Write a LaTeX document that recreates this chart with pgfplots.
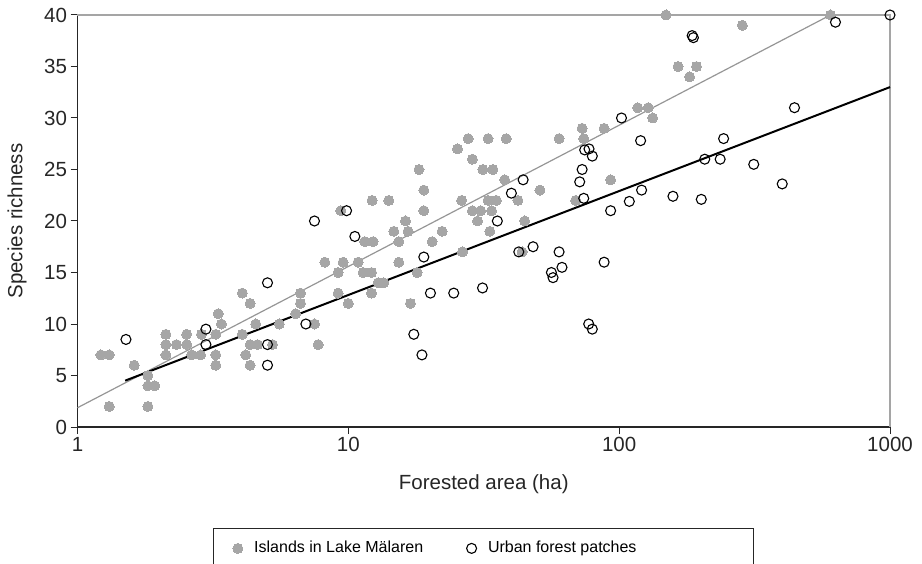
\documentclass[border=0pt]{standalone}
\usepackage{fontspec}
\setmainfont{Liberation Sans}
\usepackage{pgfplots}
\pgfplotsset{compat=1.18}

\definecolor{islandgray}{RGB}{166,166,166}
\definecolor{fitgray}{RGB}{150,150,150}
\definecolor{framegray}{RGB}{165,165,165}

\newcommand{\chartfont}{\fontsize{20.5bp}{24bp}\selectfont}
\newcommand{\keyfont}{\fontsize{16bp}{19bp}\selectfont}

\begin{document}
\begin{tikzpicture}
\begin{axis}[
  scale only axis,
  width=812.5bp, height=412bp,
  xmode=log, log basis x=10,
  xmin=1, xmax=1000, ymin=0, ymax=40,
  xtick={1,10,100,1000}, xticklabels={1,10,100,1000},
  xminorticks=false,
  ytick={0,5,...,40},
  axis x line*=bottom, axis y line*=left,
  axis line style={-, line width=1.2bp, black!85},
  tick align=outside, major tick length=7bp,
  tick style={line width=1bp, black!85},
  /pgf/number format/assume math mode=true,
  tick label style={font=\chartfont, text=black!85},
  xlabel={Forested area (ha)},
  ylabel={Species richness},
  every axis x label/.style={at={(axis description cs:0.5,-0.138)}, anchor=center,
    font=\chartfont, text=black!85},
  every axis y label/.style={at={(axis description cs:-0.0745,0.5)}, anchor=center,
    rotate=90, font=\chartfont, text=black!85},
  clip=false,
  legend columns=2,
  legend style={
    at={(axis description cs:0.1668,-0.2451)}, anchor=north west,
    draw=black!85, line width=0.8bp, font=\keyfont,
    inner xsep=8bp, inner ysep=12bp,
    nodes={inner sep=0bp, text height=12bp, text depth=4bp},
    /tikz/every even column/.append style={column sep=32bp},
  },
  legend image code/.code={\path (-16bp,0bp) (16bp,0bp); \draw[#1] plot coordinates {(0bp,0bp)};},
]
% grey frame on the top and right of the plot area
\draw[framegray, line width=1.2bp] (rel axis cs:0,1) -- (rel axis cs:1,1) -- (rel axis cs:1,0);

% islands in Lake Malaren
\addplot[only marks, mark=*, mark size=5bp, mark options={fill=islandgray, draw=islandgray, line width=0pt}]
coordinates {
(1.22,7) (1.31,7) (1.31,2) (1.62,6) (1.82,5) (1.82,4) (1.93,4) (1.82,2)
(2.12,9) (2.12,8) (2.12,7) (2.32,8) (2.53,9) (2.53,8) (2.64,7) (2.85,7)
(2.87,9) (3.24,9) (3.24,7) (3.24,6) (3.31,11) (3.40,10) (4.06,13) (4.34,12)
(4.06,9) (4.18,7) (4.34,6) (4.34,8) (4.62,8) (4.55,10) (5.25,8) (5.56,10)
(6.66,13) (6.66,12) (6.39,11) (7.50,10) (7.74,8) (8.19,16) (9.17,13) (9.17,15)
(9.57,16) (10.0,12) (10.87,16) (11.34,15) (12.18,15) (12.18,13) (11.5,18) (12.35,18)
(12.88,14) (13.52,14) (14.72,19) (15.36,18) (15.36,16) (16.26,20) (16.62,19) (16.96,12)
(17.95,15) (20.39,18) (22.2,19) (26.4,17) (30.0,20) (33.3,19)
(27.7,28) (32.8,28) (25.3,27) (28.7,26) (31.4,25) (34.2,25) (18.24,25) (19.0,23)
(19.0,21) (12.24,22) (14.1,22) (9.38,21) (26.2,22) (28.7,21) (30.8,21) (32.8,22)
(35.2,22) (33.8,21)
(149,40) (165,35) (193,35) (182,34) (117,31) (128,31) (133,30) (73,29)
(88,29) (38.3,28) (60,28) (74,28) (37.8,24) (51,23) (93,24) (42.3,22)
(44.8,20) (69.1,22) (43.8,17) (285,39) (603,40)
};
\addlegendentry{Islands in Lake Mälaren}

% urban forest patches
\addplot[only marks, mark=o, mark size=5bp, mark options={draw=black, line width=1.1bp}]
coordinates {
(1.51,8.5) (2.98,9.5) (2.98,8) (5.03,8) (5.03,14) (5.03,6) (7.5,20) (10.57,18.5)
(6.97,10) (19.0,16.5) (20.1,13) (24.5,13) (31.3,13.5) (17.45,9) (18.7,7) (35.5,20)
(9.85,21)
(186,38) (188,37.8) (102,30) (120,27.8) (74.6,26.9) (77.4,27) (79.6,26.3) (73,25)
(71.5,23.8) (74,22.2) (44.2,24) (40,22.7) (121,23) (109,21.9) (93,21) (158,22.4)
(201,22.1) (207,26) (629,39.3) (1000,40) (444,31) (243,28) (236,26) (314,25.5)
(400,23.6)
(42.6,17) (48.1,17.5) (60,17) (56.2,15) (57,14.5) (61.5,15.5) (88,16) (77.2,10)
(79.6,9.5)
};
\addlegendentry{Urban forest patches\hspace*{109bp}}

% fitted trends, log-linear
\addplot[forget plot, fitgray, line width=1.2bp] coordinates {(1,1.87) (603,40)};
\addplot[forget plot, black, line width=2bp] coordinates {(1.5,4.5) (1000,33.0)};
\end{axis}
\pgfresetboundingbox
\useasboundingbox (-77.5bp,-137bp) rectangle (844.5bp,427bp);
\end{tikzpicture}
\end{document}
